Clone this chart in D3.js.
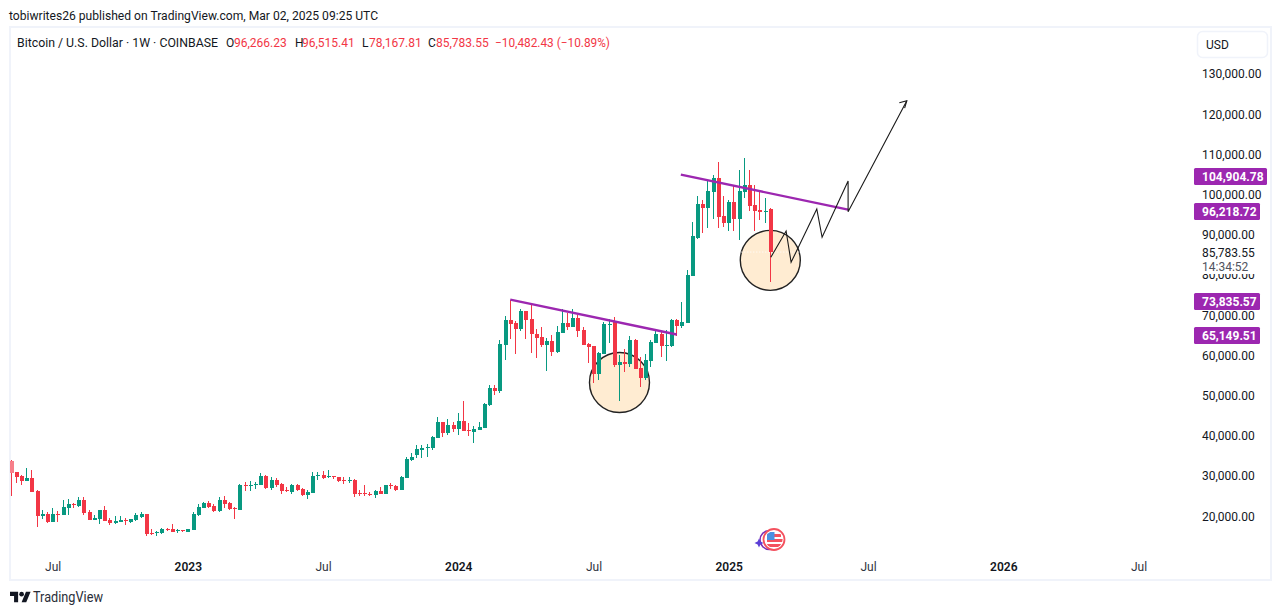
<!DOCTYPE html>
<html><head><meta charset="utf-8">
<script src="https://cdn.jsdelivr.net/npm/d3@7/dist/d3.min.js"></script>
<style>
html,body{margin:0;padding:0;background:#fff;overflow:hidden}
svg{display:block}
text{font-family:Roboto,"Noto Sans",sans-serif;font-size:12px;fill:#131722}
</style></head><body><div id="chart"></div>
<script>
const opens=[33682,30946,29951,28790,29453,26219,20000,20498,18591,20498,20332,21990,23068,22488,23980,20995,19088,19337,21493,19005,18342,18591,19005,18591,19088,19834,20498,15689,15772,15772,16849,16766,16518,16518,16103,16600,20249,22073,23234,22488,21244,23980,23234,21990,21493,27712,27463,27712,27712,29951,26966,28956,27961,26468,25970,27712,26717,25224,25722,29951,30200,29702,29951,29702,28956,28707,28956,25722,25722,25473,25224,26219,25473,27712,27463,26468,29453,33931,35175,36418,36916,36916,39404,43384,40647,42637,41643,43632,41394,40896,41394,41891,47613,51842,51095,62538,68757,68011,66518,70996,69006,65275,64528,62538,63533,60797,65523,68011,67016,69255,66270,62787,62289,55324,60301,67513,68508,57563,58309,57812,63782,56817,54329,58558,63036,65275,62289,62289,68757,67265,68011,79702,89155,97613,96618,100598,104081,94628,92886,98110,93881,100598,102340,97364,96120,95706,96266.23];
const highs=[33931,30946,30200,31941,31443,26385,21493,20995,21990,21244,23980,24229,23234,24727,24727,21493,20249,21493,22488,19503,20000,20000,19503,19254,20747,20995,20581,16766,16269,17015,17015,18010,16766,16518,16766,20995,22985,23483,23731,22985,24727,24975,23483,22239,27961,28458,28707,28458,30697,30200,29702,29453,28209,27214,27961,27961,26966,26468,30946,30946,31194,31443,29951,29702,29702,29702,29204,26468,27712,25970,26468,27214,27712,28209,27712,29951,34677,35672,37662,37662,37911,39901,44628,43384,44130,43384,45623,48608,43135,42389,43384,48110,52588,52588,63782,69752,73732,68508,71494,70996,72489,66518,67016,64280,65026,67265,71494,70499,71494,70001,67016,63036,62289,60797,68260,69006,69503,60051,61543,64777,64031,59553,60301,63782,66270,65772,66270,69006,69006,73235,81195,93135,99603,98608,103583,104827,108061,99603,98608,102340,106071,109056,106071,102340,100598,99106,96515.41];
const lows=[25058,28292,27795,28790,26053,17347,19337,18342,18591,18591,20332,20332,22073,22322,20332,19088,19088,18093,18839,17844,18093,18591,17844,18342,18839,19586,15108,15191,15108,15606,16352,16103,15855,16103,16103,16600,20083,21990,21990,20995,20995,21990,21493,19254,21493,26219,26219,26717,27712,26717,26468,27214,25473,25970,25473,26219,24975,24229,25722,28956,29204,29453,29204,28458,27961,28209,24727,24975,24975,24975,24478,25473,25473,26717,26219,26468,29453,33682,34428,34428,34677,36418,39404,39652,40150,40896,40150,41145,39901,38160,41394,41891,47364,50100,50597,58807,64031,60301,66021,64031,60548,59304,62041,56070,59802,60548,65523,66270,67016,64528,62538,58060,53085,53832,60301,63036,56982,48608,55822,57148,56568,52090,53832,57065,63036,59553,58558,62041,64777,66767,68011,79702,88907,90399,91643,93881,91643,91891,90896,90896,88658,99106,95871,90896,93633,92886,78167.81];
const closes=[30780,29785,28790,29453,26053,20083,20498,18508,20498,20332,22239,22985,22820,23980,20747,19088,19503,21493,18839,18342,18756,19005,18839,19254,20249,20498,15523,15523,16020,16766,16600,16103,16600,16352,16766,20498,22239,23234,22239,21244,23980,22985,21742,21742,27712,27463,27712,27961,29951,26966,28956,27712,26219,26219,27712,26468,25224,25970,29951,30200,29453,29951,29702,28707,28707,28956,25473,25473,25556,25307,26219,25473,27712,27463,26468,29702,34180,34677,36667,36916,37165,39652,43384,40647,42637,41643,43632,41145,41145,41643,42140,47861,51842,51095,62787,68757,67762,66518,70996,68757,65275,64280,62538,63533,60797,65772,68011,67016,69255,66021,62538,62041,55324,60548,67762,67762,57563,58309,57895,63782,56568,54329,58807,63284,65275,62289,62538,68757,67265,68260,79951,89653,97613,96618,100847,104081,94379,92886,98110,93881,100847,102340,97115,95871,95623,95871,85783.55];

const priceTicks=[20000,30000,40000,50000,60000,70000,80000,90000,100000,110000,120000,130000];
const timeTickBars=[8,34,60,86,112,138,164.8,190.8,216.8];
const timeTickLabels=["Jul","2023","Jul","2024","Jul","2025","Jul","2026","Jul"];
const trendPrices=[73835.57,65149.51,104904.78,96218.72];
const trendBars=[96,128,128.8,160.96];
const pathBars=[146.1,149.04,150,154.94,155.96,160.96,160.96,172.25];
const pathPrices=[84354,90897,83110,96369,89329,103335,95698,123310];
const circleBars=[117,146];
const circlePrices=[53200,83600];
const titleParts=[["Bitcoin / U.S. Dollar · 1W · COINBASE",17,"#131722",201],["O",226,"#131722",0],["96,266.23",234,"#f23645",0],["H",295,"#131722",0],["96,515.41",302,"#f23645",0],["L",362,"#131722",0],["78,167.81",369,"#f23645",0],["C",428,"#131722",0],["85,783.55",436,"#f23645",0],["−10,482.43 (−10.89%)",495,"#f23645",115]];

const RED="#f23645",GREEN="#089981",PURPLE="#9c27b0";
const svg=d3.select("#chart").append("svg").attr("width",1281).attr("height",615);
const x=d3.scaleLinear().domain([0,146]).range([11,770.3]);
const y=d3.scaleLinear().domain([20000,130000]).range([516,73.8]);
const fmt=d3.format(",.2f");

svg.append("rect").attr("width",1281).attr("height",615).attr("fill","#fff");
svg.append("rect").attr("x",10).attr("y",27).attr("width",1261).attr("height",553).attr("fill","#fff").attr("stroke","#f0f3fa").attr("stroke-width",2);

svg.append("text").attr("x",9).attr("y",19.5).attr("textLength",369).attr("lengthAdjust","spacingAndGlyphs").text("tobiwrites26 published on TradingView.com, Mar 02, 2025 09:25 UTC");
svg.selectAll("text.title").data(titleParts).join("text").attr("class","title").attr("x",d=>d[1]).attr("y",46.5).style("fill",d=>d[2]).each(function(d){if(d[3])d3.select(this).attr("textLength",d[3]).attr("lengthAdjust","spacingAndGlyphs");}).text(d=>d[0]);

const circles=svg.append("g");
circleBars.forEach((b,i)=>circles.append("circle").attr("cx",x(b)).attr("cy",y(circlePrices[i])).attr("r",30).attr("fill","#ffecd2").attr("stroke","#222").attr("stroke-width",1.4));

svg.append("line").attr("x1",x(146)-29).attr("x2",x(146)+29).attr("y1",y(closes[146])+.5).attr("y2",y(closes[146])+.5).attr("stroke","#fff").attr("stroke-width",1).attr("stroke-dasharray","1 2");

const bars=svg.append("g").attr("shape-rendering","crispEdges");
closes.forEach((c,i)=>{
  const o=opens[i],col=c>=o?GREEN:RED,px=Math.floor(x(i));
  const top=Math.round(y(Math.max(o,c))),bot=Math.round(y(Math.min(o,c)));
  bars.append("rect").attr("x",px).attr("width",1).attr("y",y(highs[i])).attr("height",y(lows[i])-y(highs[i])).attr("fill",col);
  bars.append("rect").attr("x",px-1).attr("width",3.5).attr("y",top).attr("height",Math.max(1,bot-top)).attr("fill",i===0?"#f77f8a":col);
});

const trend=svg.append("g");
[0,2].forEach(i=>trend.append("line").attr("x1",x(trendBars[i])).attr("y1",y(trendPrices[i])).attr("x2",x(trendBars[i+1])).attr("y2",y(trendPrices[i+1])).attr("stroke",PURPLE).attr("stroke-width",2.4));

const line=d3.line().x((d,i)=>x(pathBars[i])).y((d,i)=>y(pathPrices[i]));
svg.append("path").attr("d",line(pathBars)).attr("fill","none").attr("stroke","#1a1a1a").attr("stroke-width",1.1).attr("stroke-linejoin","miter");
const tipX=x(pathBars[7]),tipY=y(pathPrices[7]);
svg.append("path").attr("d",`M${tipX-7.5},${tipY+2}L${tipX},${tipY}L${tipX-2.2},${tipY+7.5}`).attr("fill","none").attr("stroke","#1a1a1a").attr("stroke-width",1.1);

const yAxis=d3.axisRight(y).tickValues(priceTicks).tickFormat(fmt).tickSize(0).tickPadding(0);
const ya=svg.append("g").attr("transform","translate(1202,0)").call(yAxis);
ya.select(".domain").remove();
ya.selectAll("text").attr("dy","0.34em");

const xAxis=d3.axisBottom(x).tickValues(timeTickBars).tickFormat((d,i)=>timeTickLabels[i]).tickSize(0).tickPadding(0);
const xa=svg.append("g").attr("transform","translate(0,562)").call(xAxis);
xa.select(".domain").remove();
xa.selectAll("text").attr("dy","0.71em").style("font-weight",(d,i)=>/^\d/.test(timeTickLabels[i])?"600":"400").style("fill",(d,i)=>/^\d/.test(timeTickLabels[i])?"#131722":"#2f3340");

// USD button
svg.append("rect").attr("x",1197.5).attr("y",31.5).attr("width",70).attr("height",26).attr("rx",5).attr("fill","#fff").attr("stroke","#f0f3fa").attr("stroke-width",1.5);
svg.append("text").attr("x",1206).attr("y",48.5).text("USD");

// last price label block masks the tick behind it
svg.append("rect").attr("x",1196).attr("y",245).attr("width",70).attr("height",29).attr("fill","#fff");
svg.append("text").attr("x",1202).attr("y",257).text(fmt(closes[146]));
svg.append("text").attr("x",1202).attr("y",271).style("fill","#50535e").text("14:34:52");

// purple price tags
const tags=svg.append("g");
trendPrices.forEach(p=>{
  const w=p>=100000?73:66,yy=Math.round(y(p))+1.5;
  tags.append("rect").attr("x",1194).attr("y",yy-8.5).attr("width",w).attr("height",17).attr("rx",1.5).attr("fill",PURPLE);
  tags.append("text").attr("x",1202).attr("y",yy+4.3).style("fill","#fff").style("font-weight","700").text(fmt(p));
});

// flag badge
const badge=svg.append("g");
badge.append("circle").attr("cx",769.5).attr("cy",540).attr("r",9.5).attr("fill","none").attr("stroke","#7b2fb5").attr("stroke-width",1.6);
badge.append("path").attr("d","M759,538.5L760.4,541.6L763.5,543L760.4,544.4L759,547.5L757.6,544.4L754.5,543L757.6,541.6Z").attr("fill","#5b3fd6");
badge.append("circle").attr("cx",774).attr("cy",539.5).attr("r",10.5).attr("fill","#fff").attr("stroke","#f4515e").attr("stroke-width",1.8);
const clipId="flagClip";
badge.append("clipPath").attr("id",clipId).append("circle").attr("cx",774).attr("cy",539.5).attr("r",8.6);
const fl=badge.append("g").attr("clip-path",`url(#${clipId})`);
fl.append("rect").attr("x",765).attr("y",531).attr("width",18).attr("height",18).attr("fill","#fff");
fl.append("rect").attr("x",767).attr("y",534).attr("width",14).attr("height",3).attr("fill","#f4515e");
fl.append("rect").attr("x",767).attr("y",539).attr("width",16).attr("height",3).attr("fill","#f4515e");
fl.append("rect").attr("x",767).attr("y",544).attr("width",14).attr("height",3).attr("fill","#f4515e");
fl.append("rect").attr("x",767).attr("y",532).attr("width",7.5).attr("height",8).attr("fill","#4a90e2");

// footer logo
const logo=svg.append("g").attr("transform","translate(10,589.5) scale(.58)").attr("fill","#131722");
logo.append("path").attr("d","M14 22H7V11H0V4h14v18zM28 22h-8l7.5-18h8L28 22z");
logo.append("circle").attr("cx",20).attr("cy",8).attr("r",4);
svg.append("text").attr("x",33).attr("y",602).attr("textLength",70).attr("lengthAdjust","spacingAndGlyphs").style("font-size","14px").style("fill","#2a2e39").text("TradingView");
</script></body></html>
